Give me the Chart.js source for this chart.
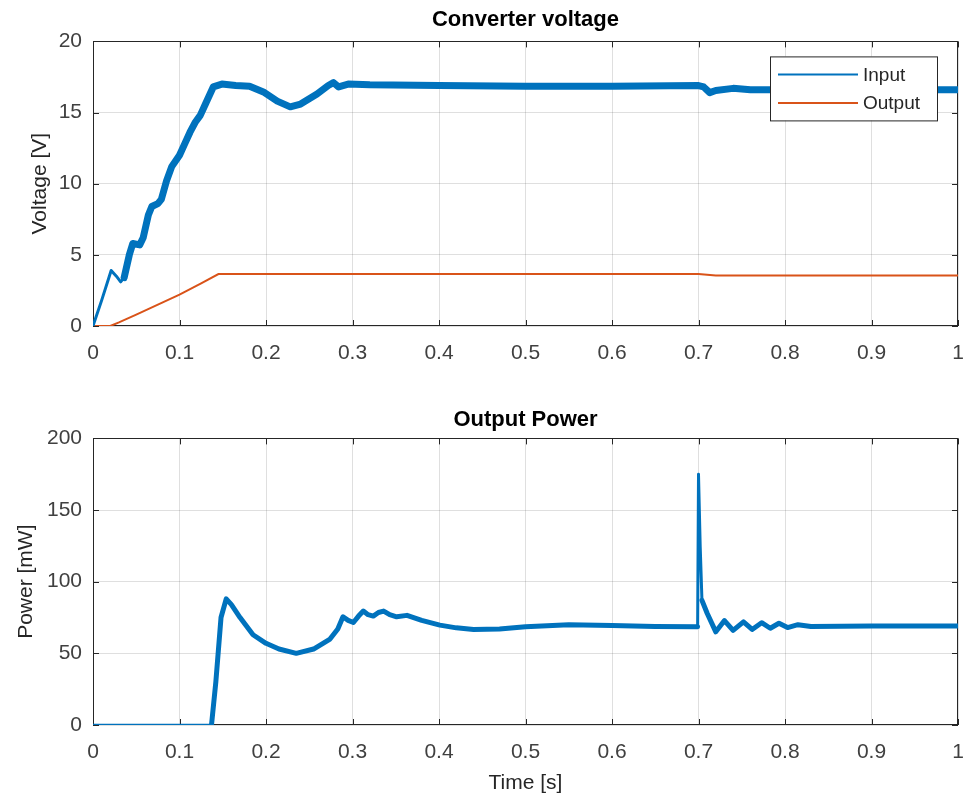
<!DOCTYPE html>
<html>
<head>
<meta charset="utf-8">
<script src="https://cdn.jsdelivr.net/npm/chart.js@4"></script>
<style>
  body { margin: 0; background: #fff; }
  #topBox { position: absolute; left: 0; top: 0; width: 968px; height: 390px; }
  #bottomBox { position: absolute; left: 0; top: 390px; width: 968px; height: 412px; }
</style>
</head>
<body>
<div id="topBox"><canvas id="voltChart"></canvas></div>
<div id="bottomBox"><canvas id="powerChart"></canvas></div>
<script>
// Converter voltage - input
const timeIn = [0, 0.01, 0.021, 0.027, 0.032, 0.036, 0.042, 0.046, 0.054, 0.058, 0.064, 0.068, 0.075, 0.079,
  0.085, 0.091, 0.1, 0.106, 0.112, 0.118, 0.124, 0.13, 0.139, 0.149, 0.165, 0.181, 0.197, 0.213, 0.228, 0.24,
  0.259, 0.272, 0.278, 0.284, 0.295, 0.32, 0.4, 0.5, 0.6, 0.7, 0.706, 0.713, 0.72, 0.74, 0.76, 0.8, 0.9, 1.0];
const inputV = [0, 1.8, 3.9, 3.5, 3.1, 3.4, 5.0, 5.8, 5.7, 6.2, 7.8, 8.4, 8.6, 8.9,
  10.2, 11.2, 12.0, 12.8, 13.6, 14.3, 14.8, 15.6, 16.8, 17.0, 16.9, 16.85, 16.45, 15.8, 15.4, 15.6,
  16.3, 16.9, 17.1, 16.8, 17.0, 16.95, 16.9, 16.85, 16.85, 16.9, 16.8, 16.4, 16.55, 16.7, 16.6, 16.6, 16.6, 16.6];

// Converter voltage - output
const timeOut = [0, 0.02, 0.03, 0.05, 0.075, 0.1, 0.125, 0.145, 0.3, 0.5, 0.7, 0.72, 1.0];
const outputV = [0, 0, 0.25, 0.8, 1.5, 2.2, 3.0, 3.65, 3.65, 3.65, 3.65, 3.55, 3.55];

// Output power
const timeP = [0, 0.137, 0.142, 0.148, 0.154, 0.16, 0.17, 0.185, 0.2, 0.215, 0.235, 0.255, 0.274, 0.283,
  0.289, 0.295, 0.301, 0.307, 0.3125, 0.318, 0.324, 0.33, 0.336, 0.343, 0.351, 0.363, 0.38, 0.401, 0.42,
  0.44, 0.47, 0.5, 0.55, 0.6, 0.65, 0.699, 0.7, 0.702, 0.704, 0.71, 0.72, 0.73, 0.74, 0.752, 0.762, 0.773,
  0.783, 0.793, 0.803, 0.815, 0.83, 0.9, 1.0];
const powerMW = [0, 0, 30, 75, 88, 84, 75, 63, 57, 53, 50, 53, 60, 67,
  75.5, 73, 71.5, 76, 79.5, 77, 76, 78.5, 79.5, 77, 75.5, 76.5, 73, 69.7, 67.8,
  66.7, 67, 68.5, 70, 69.5, 68.8, 68.5, 175, 124, 87, 78, 65, 72.9, 66, 72, 66.7, 71.4,
  67.5, 71, 68, 70, 68.8, 69, 69];

const timeTicks = { min: 0, max: 1, step: 0.1 };
const voltTicks = { min: 0, max: 20, step: 5 };
const powerTicks = { min: 0, max: 200, step: 50 };

const BLUE = "#0072BD";
const ORANGE = "#D95319";
const AXIS = "#262626";
const GRID = "rgba(38,38,38,0.15)";
const FONT = "'Liberation Sans', Arial, sans-serif";

Chart.defaults.font.family = FONT;
Chart.defaults.color = "#404040";

const toPoints = (xs, ys) => xs.map((x, i) => ({ x: x, y: ys[i] }));

// box round the plot with inward ticks on all four sides, like the original
const boxPlugin = {
  id: "boxTicks",
  beforeDatasetsDraw(chart) {
    const { ctx, chartArea: a, scales: { x, y } } = chart;
    const len = 6;
    ctx.save();
    ctx.strokeStyle = AXIS;
    ctx.lineWidth = 1;
    ctx.beginPath();
    x.ticks.forEach(t => {
      const px = Math.round(x.getPixelForValue(t.value)) + 0.5;
      ctx.moveTo(px, a.bottom); ctx.lineTo(px, a.bottom - len);
      ctx.moveTo(px, a.top); ctx.lineTo(px, a.top + len);
    });
    y.ticks.forEach(t => {
      const py = Math.round(y.getPixelForValue(t.value)) + 0.5;
      ctx.moveTo(a.left, py); ctx.lineTo(a.left + len, py);
      ctx.moveTo(a.right, py); ctx.lineTo(a.right - len, py);
    });
    ctx.stroke();
    ctx.strokeRect(Math.round(a.left) + 0.5, Math.round(a.top) + 0.5,
      Math.round(a.right - a.left) - 1, Math.round(a.bottom - a.top) - 1);
    ctx.restore();
  }
};

// boxed legend in the upper right corner
const boxLegend = {
  id: "boxLegend",
  afterDraw(chart) {
    const { ctx, chartArea: a } = chart;
    const w = 167, h = 64;
    const x0 = a.right - 21 - w, y0 = a.top + 15;
    ctx.save();
    ctx.fillStyle = "#fff";
    ctx.fillRect(x0, y0, w, h);
    ctx.strokeStyle = AXIS;
    ctx.lineWidth = 1;
    ctx.strokeRect(x0 + 0.5, y0 + 0.5, w, h);
    ctx.font = "19px " + FONT;
    ctx.textBaseline = "middle";
    chart.data.datasets.forEach((ds, i) => {
      const yy = y0 + 18 + i * 28.5;
      ctx.strokeStyle = ds.borderColor;
      ctx.lineWidth = 2;
      ctx.beginPath();
      ctx.moveTo(x0 + 8, yy); ctx.lineTo(x0 + 88, yy);
      ctx.stroke();
      ctx.fillStyle = AXIS;
      ctx.fillText(ds.label, x0 + 93, yy + 1);
    });
    ctx.restore();
  }
};

function xScale(height, withTitle) {
  return {
    type: "linear", min: timeTicks.min, max: timeTicks.max,
    ticks: {
      stepSize: timeTicks.step, padding: 15, font: { size: 21 }, color: "#404040", maxRotation: 0,
      callback: v => String(Number(v.toFixed(2)))
    },
    grid: { color: GRID, drawTicks: false },
    border: { display: false },
    title: { display: withTitle, text: "Time [s]", font: { size: 21 }, color: AXIS, padding: { top: 0, bottom: 6 } },
    afterFit: s => { s.height = height; s.paddingRight = 0; s.paddingLeft = 0; }
  };
}

function yScale(lim, label, titleGap) {
  return {
    type: "linear", min: lim.min, max: lim.max,
    ticks: { stepSize: lim.step, padding: 11, font: { size: 21 }, color: "#404040" },
    grid: { color: GRID, drawTicks: false },
    border: { display: false },
    title: { display: true, text: label, font: { size: 21 }, color: AXIS, padding: { top: titleGap, bottom: 0 } },
    afterFit: s => { s.width = 93; }
  };
}

new Chart(document.getElementById("voltChart"), {
  type: "line",
  data: {
    datasets: [
      {
        label: "Input", data: toPoints(timeIn, inputV), borderColor: BLUE, borderWidth: 7,
        pointRadius: 0, tension: 0, borderJoinStyle: "round", borderCapStyle: "round",
        segment: { borderWidth: c => (c.p0.parsed.x < 0.035 ? 3 : 7) }
      },
      {
        label: "Output", data: toPoints(timeOut, outputV), borderColor: ORANGE, borderWidth: 2,
        pointRadius: 0, tension: 0
      }
    ]
  },
  options: {
    responsive: true, maintainAspectRatio: false, animation: false,
    layout: { padding: { left: 0, right: 10, top: 0, bottom: 0 } },
    plugins: {
      legend: { display: false },
      tooltip: { enabled: false },
      title: {
        display: true, text: "Converter voltage", fullSize: false, color: "#000",
        font: { size: 22, weight: "bold" }, padding: { top: 7, bottom: 8 }
      }
    },
    scales: { x: xScale(64, false), y: yScale(voltTicks, "Voltage [V]", 28) }
  },
  plugins: [boxPlugin, boxLegend]
});

new Chart(document.getElementById("powerChart"), {
  type: "line",
  data: {
    datasets: [
      {
        label: "Power", data: toPoints(timeP, powerMW), borderColor: BLUE, borderWidth: 5,
        pointRadius: 0, tension: 0, borderJoinStyle: "round", borderCapStyle: "round",
        segment: {
          borderWidth: c => {
            if (c.p1.parsed.y === 0) return 2.5;
            if (c.p0.parsed.x >= 0.699 && c.p0.parsed.x < 0.704) return 3;
            return 5;
          }
        }
      }
    ]
  },
  options: {
    responsive: true, maintainAspectRatio: false, animation: false,
    layout: { padding: { left: 0, right: 10, top: 0, bottom: 0 } },
    plugins: {
      legend: { display: false },
      tooltip: { enabled: false },
      title: {
        display: true, text: "Output Power", fullSize: false, color: "#000",
        font: { size: 22, weight: "bold" }, padding: { top: 17, bottom: 5 }
      }
    },
    scales: { x: xScale(77, true), y: yScale(powerTicks, "Power [mW]", 14) }
  },
  plugins: [boxPlugin]
});
</script>
</body>
</html>
